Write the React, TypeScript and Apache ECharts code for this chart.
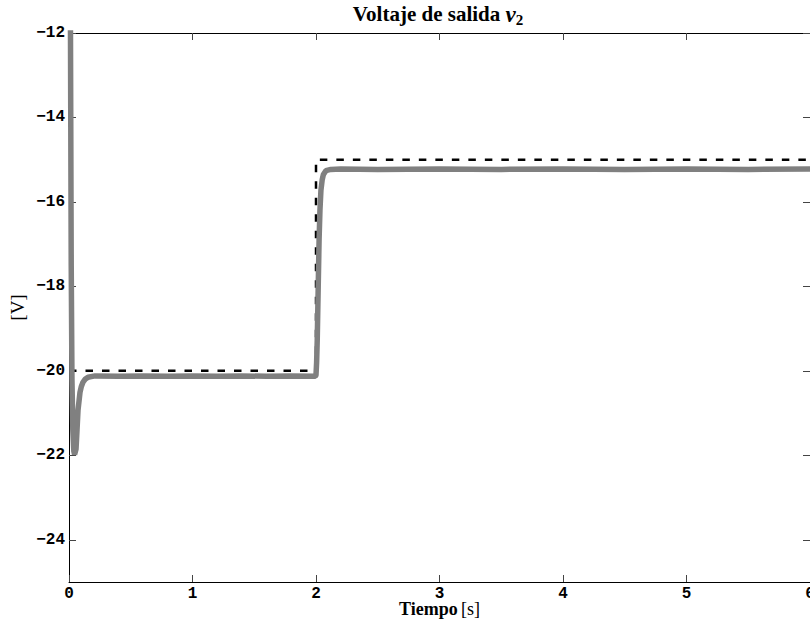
import React, { useEffect, useRef } from "react";
import * as echarts from "echarts";

const xTicks = [0, 1, 2, 3, 4, 5, 6];
const yTicks = [-24, -22, -20, -18, -16, -14, -12];

const refTime = [0, 2, 2, 6];
const refVolt = [-20, -20, -15, -15];

const outTime = [
  0, 0.012, 0.018, 0.024, 0.031, 0.039, 0.045, 0.057, 0.065, 0.073, 0.089, 0.1, 0.113, 0.13, 0.154, 0.21,
  0.4, 0.6, 0.8, 1.0, 1.2, 1.4, 1.6, 1.8, 1.995,
  2.0, 2.005, 2.01, 2.018, 2.025, 2.032, 2.04, 2.05, 2.06, 2.08, 2.12, 2.2,
  2.5, 3.0, 3.5, 4.0, 4.5, 5.0, 5.5, 6.0,
];
const outVolt = [
  -5, -12, -17.5, -20.2, -21.4, -21.9, -21.98, -21.85, -21.4, -20.93, -20.51, -20.37, -20.27, -20.2, -20.15, -20.12,
  -20.13, -20.12, -20.13, -20.12, -20.13, -20.12, -20.13, -20.12, -20.13,
  -20.1, -19.8, -19.27, -18.0, -16.9, -16.2, -15.72, -15.48, -15.35, -15.26, -15.23, -15.22,
  -15.23, -15.22, -15.23, -15.22, -15.23, -15.22, -15.23, -15.22,
];

const fmtMinus = (v: number) => (v < 0 ? "\u2212" + Math.abs(v) : String(v));

export default function App() {
  const ref = useRef<HTMLDivElement>(null);
  useEffect(() => {
    if (!ref.current) return;
    const chart = echarts.init(ref.current, null, { renderer: "svg" });
    const tickFont = {
      fontFamily: "Liberation Mono",
      fontWeight: "bold" as const,
      fontSize: 16,
      color: "#000",
    };
    const axisLine = { show: true, onZero: false, lineStyle: { color: "#000", width: 1 } };
    const tick = (vals?: number[]) => ({
      show: true,
      inside: true,
      length: 7,
      ...(vals ? { customValues: vals } : {}),
      lineStyle: { color: "#444" },
    });
    chart.setOption({
      animation: false,
      backgroundColor: "#fff",
      title: {
        left: 433,
        top: -4,
        textAlign: "center",
        text: "{a|Voltaje de salida }{v|v}{s|2}",
        textStyle: {
          rich: {
            a: { fontFamily: "Liberation Serif", fontWeight: "bold", fontSize: 21, color: "#000", lineHeight: 26 },
            v: { fontFamily: "Liberation Serif", fontStyle: "italic", fontSize: 23, color: "#000", lineHeight: 26 },
            s: { fontFamily: "Liberation Serif", fontSize: 15, color: "#000", lineHeight: 12, verticalAlign: "bottom" },
          },
        },
      },
      grid: { left: 69, right: 0, top: 33, bottom: 44, outerBoundsMode: "none", containLabel: false },
      xAxis: [
        {
          type: "value",
          min: 0,
          max: 6,
          interval: 1,
          position: "bottom",
          name: "{b|Tiempo} {r|[s]}",
          nameLocation: "middle",
          nameGap: 19,
          nameMoveOverlap: false,
          nameTextStyle: {
            verticalAlign: "top",
            rich: {
              b: { fontFamily: "Liberation Serif", fontWeight: "bold", fontSize: 18, lineHeight: 16, color: "#000" },
              r: { fontFamily: "Liberation Serif", fontSize: 18, lineHeight: 16, color: "#000" },
            },
          },
          axisLine,
          axisTick: tick(),
          axisLabel: {
            ...tickFont,
            lineHeight: 14,
            margin: 5,
            customValues: xTicks,
            formatter: (v: number) => fmtMinus(v),
          },
          splitLine: { show: false },
        },
        {
          type: "value",
          min: 0,
          max: 6,
          interval: 1,
          position: "top",
          axisLine,
          axisTick: tick(),
          axisLabel: { show: false },
          splitLine: { show: false },
        },
      ],
      yAxis: [
        {
          type: "value",
          min: -25,
          max: -12,
          position: "left",
          name: "[V]",
          nameLocation: "middle",
          nameRotate: 90,
          nameGap: 42,
          nameMoveOverlap: false,
          nameTextStyle: { fontFamily: "Liberation Serif", fontSize: 19, color: "#000" },
          axisLine,
          axisTick: tick(yTicks),
          axisLabel: {
            ...tickFont,
            margin: 4,
            customValues: yTicks,
            formatter: (v: number) => fmtMinus(v),
          },
          splitLine: { show: false },
        },
        {
          type: "value",
          min: -25,
          max: -12,
          position: "right",
          axisLine,
          axisTick: tick(yTicks),
          axisLabel: { show: false },
          splitLine: { show: false },
        },
      ],
      series: [
        {
          type: "line",
          xAxisIndex: 0,
          yAxisIndex: 0,
          data: refTime.map((t, i) => [t, refVolt[i]]),
          showSymbol: false,
          symbol: "none",
          clip: true,
          lineStyle: { color: "#000", width: 2.5, type: [7.5, 9] },
          z: 2,
        },
        {
          type: "line",
          xAxisIndex: 0,
          yAxisIndex: 0,
          data: outTime.map((t, i) => [t, outVolt[i]]),
          showSymbol: false,
          symbol: "none",
          clip: true,
          lineStyle: { color: "#808080", width: 5.5 },
          z: 3,
        },
      ],
    });
    return () => chart.dispose();
  }, []);
  return (
    <div
      ref={ref}
      style={{ position: "fixed", left: 0, top: 0, width: 810, height: 626 }}
    />
  );
}
